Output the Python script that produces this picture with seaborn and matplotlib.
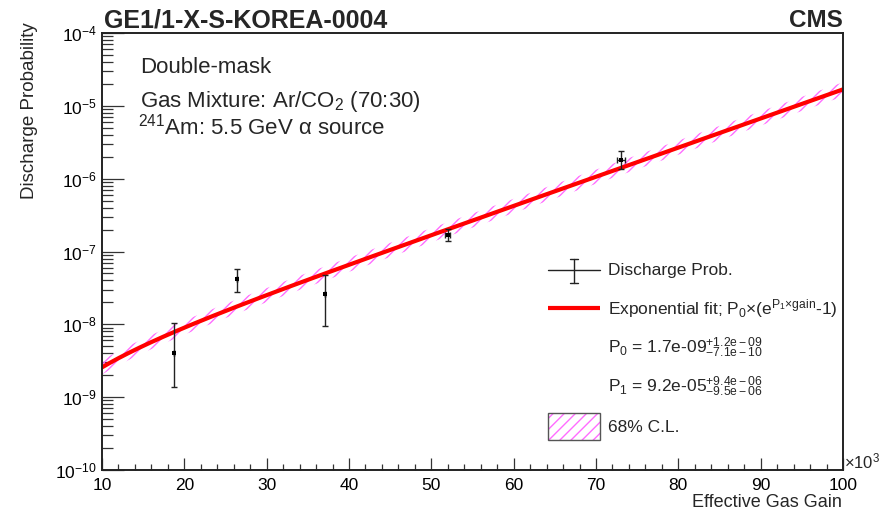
import numpy as np
import pandas as pd
import matplotlib
matplotlib.use("Agg")
import matplotlib.pyplot as plt
import seaborn as sns
from matplotlib.lines import Line2D
from matplotlib.patches import Rectangle
from matplotlib.ticker import LogLocator, MultipleLocator, NullFormatter, LogFormatterMathtext

# ---------------- data ----------------
gain_k = [18.7, 26.4, 37.1, 52.0, 73.0]          # effective gas gain, x10^3
gain_err_k = [0.0, 0.0, 0.0, 0.3, 0.5]
prob = [4.0e-9, 4.2e-8, 2.65e-8, 1.7e-7, 1.78e-6]
prob_low = [1.4e-9, 2.76e-8, 9.6e-9, 1.39e-7, 1.36e-6]
prob_high = [1.05e-8, 5.7e-8, 4.8e-8, 2.05e-7, 2.37e-6]

# exponential fit parameters stated on the chart: P0*(exp(P1*gain)-1)
P0 = 1.7e-9
P1 = 9.2e-5
band_factor = 1.25    # 68% C.L. band half-width (multiplicative)

x_ticks = [10, 20, 30, 40, 50, 60, 70, 80, 90, 100]
x_range = [10, 100]
y_range = [1e-10, 1e-4]

title_left = "GE1/1-X-S-KOREA-0004"
title_right = "CMS"
info_lines = ["Double-mask", "Gas Mixture: Ar/CO$_2$ (70:30)", "$^{241}$Am: 5.5 GeV \u03b1 source"]

# ---------------- style ----------------
sns.set_style("ticks")
plt.rcParams.update({
    "font.family": ["Liberation Sans", "DejaVu Sans"],
    "mathtext.fontset": "custom",
    "mathtext.rm": "Liberation Sans",
    "mathtext.it": "Liberation Sans:italic",
    "mathtext.bf": "Liberation Sans:bold",
    "mathtext.default": "regular",
    "hatch.linewidth": 1.0,
    "axes.linewidth": 1.4,
})

W, H = 881, 512
fig = plt.figure(figsize=(W / 100, H / 100), dpi=100)
fig.patch.set_facecolor("white")
ax = fig.add_axes([102 / W, (H - 470) / H, 741 / W, 437 / H])
ax.set_yscale("log")


def fx(x):
    return x / W


def fy(y):
    return 1 - y / H


# fit curve and band
fit_gain = np.linspace(x_range[0], x_range[1], 400)
fit = P0 * (np.exp(P1 * fit_gain * 1e3) - 1)
fit_df = pd.DataFrame({"gain": fit_gain, "fit": fit})
pts_df = pd.DataFrame({"gain": gain_k, "prob": prob})

ax.fill_between(fit_gain, fit / band_factor, fit * band_factor, facecolor="none",
                edgecolor="#ff6cff", hatch="///", linewidth=0, zorder=1)
sns.lineplot(data=fit_df, x="gain", y="fit", color="#ff0000", linewidth=3.0, ax=ax,
             zorder=2, estimator=None, sort=False)

p = np.array(prob)
yerr = [p - np.array(prob_low), np.array(prob_high) - p]
ax.errorbar(gain_k, prob, yerr=yerr, xerr=gain_err_k, fmt="none", ecolor="#222222",
            elinewidth=1.0, capsize=2.2, capthick=1.0, zorder=3)
sns.scatterplot(data=pts_df, x="gain", y="prob", marker="s", s=9, color="black",
                edgecolor="black", linewidth=0, ax=ax, zorder=4)

ax.set_xlim(*x_range)
ax.set_ylim(*y_range)
ax.set_xlabel("")
ax.set_ylabel("")
ax.xaxis.label.set_visible(False)
ax.yaxis.label.set_visible(False)
ax.set_xticks(x_ticks)
ax.set_xticklabels([str(t) for t in x_ticks])
ax.xaxis.set_minor_locator(MultipleLocator(2))
ax.yaxis.set_major_locator(LogLocator(base=10, numticks=20))
ax.yaxis.set_major_formatter(LogFormatterMathtext())
ax.yaxis.set_minor_locator(LogLocator(base=10, subs=np.arange(2, 10), numticks=100))
ax.yaxis.set_minor_formatter(NullFormatter())
ax.xaxis.get_offset_text().set_visible(False)
ax.yaxis.get_offset_text().set_visible(False)

ax.tick_params(which="both", direction="in", top=False, right=False, color="#333333",
               labelcolor="black", labelsize=12.5, width=0.9)
ax.tick_params(axis="y", which="major", length=15.5, pad=3.5)
ax.tick_params(axis="y", which="minor", length=8)
ax.tick_params(axis="x", which="major", length=9, pad=6)
ax.tick_params(axis="x", which="minor", length=4.5)
for s in ax.spines.values():
    s.set_color("#222222")
    s.set_linewidth(1.4)

# titles / axis labels
fig.text(fx(104), fy(27), title_left, fontsize=18, fontweight="bold", ha="left", va="baseline")
fig.text(fx(843), fy(27), title_right, fontsize=17.5, fontweight="bold", ha="right", va="baseline")
fig.text(fx(30), fy(22), "Discharge Probability", fontsize=13.5, rotation=90, ha="center", va="top")
fig.text(fx(842), fy(507), "Effective Gas Gain", fontsize=13, ha="right", va="baseline")
fig.text(fx(844), fy(468), "\u00d710$^3$", fontsize=12, ha="left", va="baseline")

# info text
for txt, yb, xl in zip(info_lines, [73, 107, 135], [140, 140, 138]):
    fig.text(fx(xl), fy(yb), txt, fontsize=16, ha="left", va="baseline")

# ---------------- legend (manual, ROOT style) ----------------
lx0, lx1, lxc = 548, 600, 574
fig.add_artist(Line2D([fx(lx0), fx(lx1)], [fy(270), fy(270)], color="#222222", lw=1.0,
                      transform=fig.transFigure))
fig.add_artist(Line2D([fx(lxc), fx(lxc)], [fy(259), fy(283)], color="#222222", lw=1.0,
                      transform=fig.transFigure))
for yc in (259, 283):
    fig.add_artist(Line2D([fx(lxc - 4), fx(lxc + 4)], [fy(yc), fy(yc)], color="#222222", lw=1.0,
                          transform=fig.transFigure))
fig.add_artist(Line2D([fx(lx0), fx(lx1)], [fy(308), fy(308)], color="#ff0000", lw=3.0,
                      solid_capstyle="butt", transform=fig.transFigure))
fig.add_artist(Rectangle((fx(lx0), fy(440)), (lx1 - lx0) / W, 27 / H, facecolor="white",
                         edgecolor="#ff6cff", hatch="///", linewidth=0, transform=fig.transFigure))
fig.add_artist(Rectangle((fx(lx0), fy(440)), (lx1 - lx0) / W, 27 / H, facecolor="none",
                         edgecolor="#555555", linewidth=1.0, transform=fig.transFigure))

leg_fs = 12.5
fig.text(fx(608), fy(275), "Discharge Prob.", fontsize=leg_fs, ha="left", va="baseline")
fig.text(fx(608), fy(314), "Exponential fit; P$_0$\u00d7(e$^{P_1\u00d7gain}$-1)", fontsize=leg_fs,
         ha="left", va="baseline")
fig.text(fx(608), fy(353), "P$_0$ = 1.7e-09$^{+1.2e-09}_{-7.1e-10}$", fontsize=leg_fs,
         ha="left", va="baseline")
fig.text(fx(608), fy(392), "P$_1$ = 9.2e-05$^{+9.4e-06}_{-9.5e-06}$", fontsize=leg_fs,
         ha="left", va="baseline")
fig.text(fx(608), fy(432), "68% C.L.", fontsize=leg_fs, ha="left", va="baseline")

fig.savefig("out.png", dpi=100, facecolor="white")
